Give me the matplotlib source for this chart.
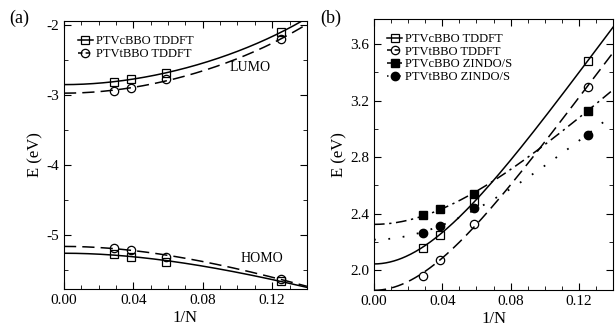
import numpy as np
import matplotlib
matplotlib.use("Agg")
import matplotlib.pyplot as plt
from matplotlib.ticker import MultipleLocator, FormatStrFormatter

plt.rcParams['font.family'] = ['Liberation Serif', 'DejaVu Serif']

# 1/N for the four oligomer lengths
inv_n = [0.0286, 0.0385, 0.0588, 0.125]

# panel (a): frontier orbital energies (eV)
lumo_c = [-2.81, -2.77, -2.68, -2.10]
lumo_t = [-2.94, -2.90, -2.77, -2.20]
homo_c = [-5.27, -5.31, -5.38, -5.66]
homo_t = [-5.18, -5.21, -5.31, -5.63]

# panel (b): excitation energies (eV)
gap_c_td = [2.16, 2.25, 2.49, 3.48]
gap_t_td = [1.96, 2.07, 2.33, 3.30]
gap_c_zi = [2.39, 2.43, 2.54, 3.13]
gap_t_zi = [2.26, 2.31, 2.44, 2.96]


def kuhn_fit(x, y, xs):
    # Kuhn-type fit: E^2 = A + B*cos(pi/(N+1)), with N = 1/x
    x = np.asarray(x)
    y = np.asarray(y)
    sign = np.sign(y[0])
    c = np.cos(np.pi * x / (1 + x))
    B, A = np.polyfit(c, y**2, 1)
    cs = np.cos(np.pi * xs / (1 + xs))
    return sign * np.sqrt(np.clip(A + B * cs, 0, None))


def style_axes(ax):
    ax.tick_params(which='both', direction='in', top=True, right=True,
                   labelsize=11)
    ax.tick_params(which='major', length=5)
    ax.tick_params(which='minor', length=3)
    ax.xaxis.set_major_locator(MultipleLocator(0.04))
    ax.xaxis.set_minor_locator(MultipleLocator(0.01))
    ax.xaxis.set_major_formatter(FormatStrFormatter('%.2f'))
    ax.set_xlabel('1/N', fontsize=12, labelpad=2)
    ax.set_ylabel('E (eV)', fontsize=12, labelpad=2)


fig = plt.figure(figsize=(6.15, 3.25), dpi=100)
xs = np.linspace(0, 0.14, 300)
open_mk = dict(ls='none', ms=6, mfc='none', mec='black', mew=0.9)
mk = dict(ms=6, mfc='none', mec='black', mew=0.9, color='black', lw=1.1)

# (a)
ax1 = fig.add_axes([0.104, 0.111, 0.395, 0.824])
ax1.plot(xs, kuhn_fit(inv_n, lumo_c, xs), '-', color='black', lw=1.1)
ax1.plot(xs, kuhn_fit(inv_n, lumo_t, xs), color='black', lw=1.1, dashes=(8, 4))
ax1.plot(xs, kuhn_fit(inv_n, homo_c, xs), '-', color='black', lw=1.1)
ax1.plot(xs, kuhn_fit(inv_n, homo_t, xs), color='black', lw=1.1, dashes=(8, 4))
ax1.plot(inv_n, lumo_c, 's', **open_mk)
ax1.plot(inv_n, lumo_t, 'o', **open_mk)
ax1.plot(inv_n, homo_c, 's', **open_mk)
ax1.plot(inv_n, homo_t, 'o', **open_mk)
h1, = ax1.plot([], [], 's-', **mk)
h2, = ax1.plot([], [], 'o', ls=(0, (3, 2)), **mk)
ax1.legend([h1, h2], ['PTVcBBO TDDFT', 'PTVtBBO TDDFT'], loc='upper left',
           frameon=False, fontsize=9, handlelength=1.2, handletextpad=0.3,
           labelspacing=0.1, borderaxespad=0.3, bbox_to_anchor=(0.02, 0.98))
ax1.text(0.107, -2.61, 'LUMO', fontsize=10, ha='center', va='center')
ax1.text(0.114, -5.34, 'HOMO', fontsize=10, ha='center', va='center')
ax1.set_xlim(0, 0.14)
ax1.set_ylim(-5.77, -1.94)
ax1.yaxis.set_major_locator(MultipleLocator(1))
ax1.yaxis.set_minor_locator(MultipleLocator(0.5))
ax1.yaxis.set_major_formatter(FormatStrFormatter('%d'))
style_axes(ax1)
fig.text(0.015, 0.93, '(a)', fontsize=13)

# (b)
ax2 = fig.add_axes([0.608, 0.108, 0.389, 0.834])
ax2.plot(xs, kuhn_fit(inv_n, gap_c_td, xs), '-', color='black', lw=1.1)
ax2.plot(xs, kuhn_fit(inv_n, gap_t_td, xs), color='black', lw=1.1, dashes=(8, 4))
ax2.plot(xs, kuhn_fit(inv_n, gap_c_zi, xs), color='black', lw=1.1,
         dashes=(7, 3, 1.5, 3))
ax2.plot(xs, kuhn_fit(inv_n, gap_t_zi, xs), color='black', lw=1.3,
         dashes=(1, 7))
ax2.plot(inv_n, gap_c_td, 's', **open_mk)
ax2.plot(inv_n, gap_t_td, 'o', **open_mk)
ax2.plot(inv_n, gap_c_zi, 's', ls='none', ms=6, color='black')
ax2.plot(inv_n, gap_t_zi, 'o', ls='none', ms=6, color='black')
g1, = ax2.plot([], [], 's-', **mk)
g2, = ax2.plot([], [], 'o', ls=(0, (3, 2)), **mk)
g3, = ax2.plot([], [], 's', ls=(0, (3, 1.5, 1, 1.5)), ms=6, color='black', lw=1.1)
g4, = ax2.plot([], [], 'o', ls=(0, (1, 3)), ms=6, color='black', lw=1.1)
ax2.legend([g1, g2, g3, g4],
           ['PTVcBBO TDDFT', 'PTVtBBO TDDFT', 'PTVcBBO ZINDO/S', 'PTVtBBO ZINDO/S'],
           loc='upper left', frameon=False, fontsize=9, handlelength=1.2,
           handletextpad=0.2, labelspacing=0.05, borderaxespad=0.3,
           bbox_to_anchor=(0.02, 0.98))
ax2.set_xlim(0, 0.14)
ax2.set_ylim(1.86, 3.78)
ax2.yaxis.set_major_locator(MultipleLocator(0.4))
ax2.yaxis.set_minor_locator(MultipleLocator(0.2))
ax2.yaxis.set_major_formatter(FormatStrFormatter('%.1f'))
style_axes(ax2)
fig.text(0.52, 0.93, '(b)', fontsize=13)

fig.savefig('out.png', dpi=100)
